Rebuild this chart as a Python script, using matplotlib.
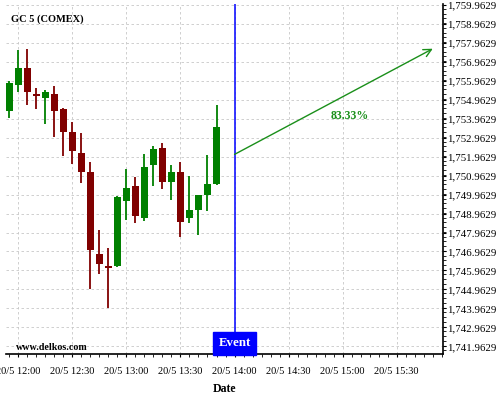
import matplotlib
matplotlib.use("Agg")
import matplotlib.pyplot as plt
import matplotlib.dates as mdates
import matplotlib.transforms as mtransforms
from matplotlib.ticker import FuncFormatter, MultipleLocator
import pandas as pd

# 5-minute candles, GC 5 (COMEX)
times = ["11:55", "12:00", "12:05", "12:10", "12:15", "12:20", "12:25", "12:30",
         "12:35", "12:40", "12:45", "12:50", "12:55", "13:00", "13:05", "13:10",
         "13:15", "13:20", "13:25", "13:30", "13:35", "13:40", "13:45", "13:50"]
opens = [1754.36, 1755.73, 1756.61, 1755.24, 1755.05, 1755.24, 1754.45, 1753.24,
         1752.14, 1751.14, 1746.82, 1746.19, 1746.19, 1749.63, 1750.40, 1748.73,
         1751.52, 1752.42, 1750.63, 1751.14, 1748.73, 1749.15, 1749.94, 1750.52]
highs = [1755.93, 1757.56, 1757.65, 1755.60, 1755.45, 1755.70, 1754.52, 1753.80,
         1753.23, 1751.70, 1748.12, 1747.14, 1749.91, 1751.31, 1750.91, 1752.12,
         1752.51, 1752.70, 1751.51, 1751.70, 1750.93, 1749.95, 1752.03, 1754.70]
lows = [1754.02, 1755.35, 1754.70, 1754.49, 1753.70, 1753.02, 1752.00, 1751.59,
        1750.58, 1745.00, 1745.78, 1744.00, 1746.15, 1748.60, 1748.47, 1748.57,
        1750.40, 1750.28, 1749.70, 1747.70, 1748.49, 1747.82, 1749.12, 1750.48]
closes = [1755.82, 1756.61, 1755.36, 1755.14, 1755.35, 1754.36, 1753.26, 1752.26,
          1751.15, 1747.05, 1746.31, 1746.10, 1749.82, 1750.29, 1748.84, 1751.40,
          1752.35, 1750.63, 1751.14, 1748.52, 1749.14, 1749.93, 1750.52, 1753.51]

event_time = "14:00"
arrow_start = ("14:00", 1752.08)
arrow_end = ("15:50", 1757.65)
arrow_label = "83.33%"
label_pos = ("15:04", 1754.09)

day = "2015-05-20 "
yticks = [1741.9629 + i for i in range(19)]


def t(s):
    return mdates.date2num(pd.Timestamp(day + s))


plt.rcParams["font.family"] = ["Liberation Serif", "DejaVu Serif"]

fig = plt.figure(figsize=(5, 4), dpi=100)
ax = fig.add_axes([0.012, 0.115, 0.874, 0.874])

five_min = 5 / (24 * 60)
width = five_min * 0.74
for tm, o, h, l, c in zip(times, opens, highs, lows, closes):
    x = t(tm)
    col = "#008000" if c >= o else "#800000"
    ax.vlines(x, l, h, color=col, linewidth=1.3, zorder=3)
    ax.bar(x, abs(c - o) if abs(c - o) > 0.08 else 0.08, width=width,
           bottom=min(o, c), color=col, zorder=4)

ev = t(event_time)
ax.axvline(ev, color="#0000ff", linewidth=1.1, zorder=5)
trans = mtransforms.blended_transform_factory(ax.transData, ax.transAxes)
ax.text(ev, 0.031, "Event", transform=trans, ha="center", va="center",
        color="white", fontsize=9.3, fontweight="bold", zorder=6,
        bbox=dict(boxstyle="square,pad=0.42", fc="#0000ff", ec="#0000ff"))

ax.annotate("", xy=(t(arrow_end[0]), arrow_end[1]),
            xytext=(t(arrow_start[0]), arrow_start[1]),
            arrowprops=dict(arrowstyle="->", color="#1a8f1a", lw=1.0,
                            mutation_scale=14, shrinkA=0, shrinkB=0), zorder=6)
ax.text(t(label_pos[0]), label_pos[1], arrow_label, ha="center", va="center",
        color="#1a8f1a", fontsize=8.5, fontweight="bold")

ax.text(0.011, 0.957, "GC 5 (COMEX)", transform=ax.transAxes, fontsize=7.5,
        fontweight="bold", ha="left", va="center")
ax.text(0.022, 0.019, "www.delkos.com", transform=ax.transAxes, fontsize=7.2,
        fontweight="bold", ha="left", va="center")

ax.set_xlim(t("11:53:12"), t("15:55:40"))
ax.set_ylim(1741.56, 1759.985)

ax.xaxis.set_major_locator(mdates.MinuteLocator(byminute=[0, 30]))
ax.xaxis.set_minor_locator(mdates.MinuteLocator(byminute=range(0, 60, 5)))
ax.xaxis.set_major_formatter(mdates.DateFormatter("%d/%-m %H:%M"))

ax.yaxis.tick_right()
ax.set_yticks(yticks)
ax.yaxis.set_minor_locator(MultipleLocator(0.25))
ax.yaxis.set_major_formatter(FuncFormatter(lambda v, p: f"{v:,.4f}"))

ax.tick_params(axis="x", labelsize=7.5, length=2.5, width=0.8, pad=7)
ax.tick_params(axis="y", labelsize=7.8, length=2.5, width=0.8, pad=0.5)
ax.tick_params(axis="both", which="minor", length=1.8, width=0.6)

ax.grid(True, color="#c8c8c8", linestyle=(0, (3, 3)), linewidth=0.6)
ax.set_axisbelow(True)

for s in ["left", "top"]:
    ax.spines[s].set_visible(False)
for s in ["bottom", "right"]:
    ax.spines[s].set_linewidth(1.2)

ax.set_xlabel("Date", fontsize=8.5, fontweight="bold", labelpad=5)

fig.savefig("out.png", dpi=100)
